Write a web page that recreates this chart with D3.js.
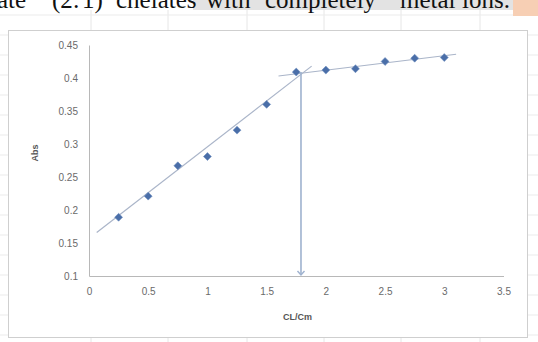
<!doctype html>
<html>
<head>
<meta charset="utf-8">
<script src="https://cdnjs.cloudflare.com/ajax/libs/d3/7.8.5/d3.min.js"></script>
<style>
  body { margin: 0; background: #fff; }
  svg { display: block; }
</style>
</head>
<body>
<div id="root"></div>
<script>
// data
const ratio = [0.25, 0.5, 0.75, 1, 1.25, 1.5, 1.75, 2, 2.25, 2.5, 2.75, 3];
const absorb = [0.189, 0.221, 0.267, 0.281, 0.321, 0.36, 0.409, 0.412, 0.414, 0.425, 0.430, 0.431];
const trend1X = [0.065, 1.88], trend1Y = [0.166, 0.418];
const trend2X = [1.6, 3.1], trend2Y = [0.403, 0.436];
const knee = {x: 1.79, y: 0.409};
const xTicks = [0, 0.5, 1, 1.5, 2, 2.5, 3, 3.5];
const yTicks = [0.1, 0.15, 0.2, 0.25, 0.3, 0.35, 0.4, 0.45];
const sheetCols = [91, 168, 247, 324, 401, 480];
const captionWords = ['ate', '(2:', '1)', 'chelates', 'with', 'completely', 'metal', 'ions.'];
const captionX = [-3, 52, 82, 116, 206, 265, 400, 462];

const W = 538, H = 342;
const svg = d3.select('#root').append('svg').attr('width', W).attr('height', H);

// spreadsheet gridlines behind the chart
svg.selectAll('.col').data(sheetCols).enter().append('line')
  .attr('x1', d => d).attr('x2', d => d).attr('y1', 10).attr('y2', H)
  .attr('stroke', '#e6e6e6').attr('stroke-width', 1);
svg.selectAll('.row').data(d3.range(15, H, 20)).enter().append('line')
  .attr('x1', 0).attr('x2', W).attr('y1', d => d).attr('y2', d => d)
  .attr('stroke', '#ebebeb').attr('stroke-width', 1);

// caption strip above (cut off by the crop)
svg.append('rect').attr('x', 193).attr('y', 0).attr('width', 320).attr('height', 10).attr('fill', '#e3e3e3');
svg.append('rect').attr('x', 513).attr('y', 0).attr('width', 25).attr('height', 16).attr('fill', '#f7cfb4');
svg.selectAll('.cap').data(captionWords).enter().append('text')
  .attr('x', (d, i) => captionX[i]).attr('y', 8)
  .attr('font-family', 'Liberation Serif, serif').attr('font-size', 25)
  .attr('fill', '#111')
  .text(d => d);

// chart box
svg.append('rect').attr('x', 8.5).attr('y', 30.5).attr('width', 519).attr('height', 307)
  .attr('fill', '#fff').attr('stroke', '#cfcfcf');

const x = d3.scaleLinear().domain([0, 3.5]).range([89, 503.5]);
const y = d3.scaleLinear().domain([0.1, 0.45]).range([276, 45]);

const font = 'Liberation Sans, Arial, sans-serif';

// axes
const xAxis = svg.append('g').attr('transform', 'translate(0,276)')
  .call(d3.axisBottom(x).tickValues(xTicks).tickSize(0).tickPadding(12).tickFormat(d3.format('')));
const yAxis = svg.append('g').attr('transform', 'translate(89,0)')
  .call(d3.axisLeft(y).tickValues(yTicks).tickSize(0).tickPadding(11).tickFormat(d3.format('')));
[xAxis, yAxis].forEach(g => {
  g.select('.domain').attr('stroke', '#b8b8b8');
  g.selectAll('text').attr('font-family', font).attr('font-size', 10).attr('fill', '#6a6a6a');
});

// trendlines
const line = d3.line().x(d => x(d[0])).y(d => y(d[1]));
svg.append('path').datum(d3.zip(trend1X, trend1Y)).attr('d', line)
  .attr('fill', 'none').attr('stroke', '#aab5c9').attr('stroke-width', 1.2);
svg.append('path').datum(d3.zip(trend2X, trend2Y)).attr('d', line)
  .attr('fill', 'none').attr('stroke', '#aab5c9').attr('stroke-width', 1.2);

// drop line with arrow
svg.append('line')
  .attr('x1', x(knee.x)).attr('x2', x(knee.x))
  .attr('y1', y(knee.y)).attr('y2', y(0.1) - 1)
  .attr('stroke', '#9fb2cf').attr('stroke-width', 1.6);
svg.append('path')
  .attr('d', `M${x(knee.x) - 3.5},${y(0.1) - 5} L${x(knee.x)},${y(0.1) - 1} L${x(knee.x) + 3.5},${y(0.1) - 5}`)
  .attr('fill', 'none').attr('stroke', '#9fb2cf').attr('stroke-width', 1.4);

// markers
svg.selectAll('.pt').data(d3.zip(ratio, absorb)).enter().append('path')
  .attr('d', d3.symbol(d3.symbolDiamond2, 40))
  .attr('transform', d => `translate(${x(d[0])},${y(d[1])})`)
  .attr('fill', '#4a6ea8').attr('stroke', '#6f8fc0').attr('stroke-width', 0.6);

// axis titles
svg.append('text').attr('x', x(1.76)).attr('y', 320).attr('text-anchor', 'middle')
  .attr('font-family', font).attr('font-size', 9).attr('font-weight', 'bold').attr('fill', '#555')
  .text('CL/Cm');
svg.append('text').attr('transform', 'translate(38,153) rotate(-90)').attr('text-anchor', 'middle')
  .attr('font-family', font).attr('font-size', 9).attr('font-weight', 'bold').attr('fill', '#555')
  .text('Abs');
</script>
</body>
</html>
